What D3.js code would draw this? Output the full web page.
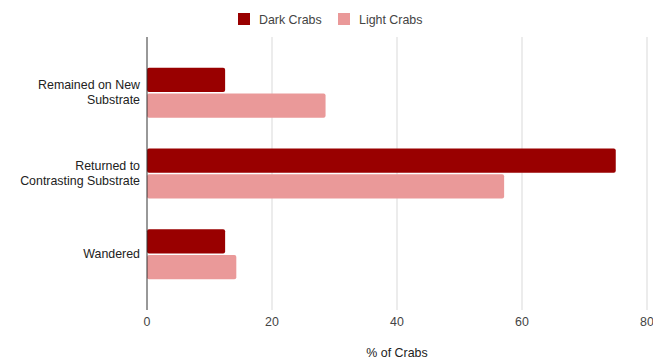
<!DOCTYPE html>
<html>
<head>
<meta charset="utf-8">
<script src="https://cdn.jsdelivr.net/npm/d3@7"></script>
<style>
  html, body { margin: 0; padding: 0; background: #fff; }
  svg { display: block; font-family: Arial, "Liberation Sans", sans-serif; }
</style>
</head>
<body>
<svg id="chart" width="653" height="361"></svg>
<script>
// Categories (each label split into display lines)
const categories = ["Remained on New Substrate", "Returned to Contrasting Substrate", "Wandered"];
const categoryLines = [["Remained on New", "Substrate"], ["Returned to", "Contrasting Substrate"], ["Wandered"]];

// Series
const seriesNames = ["Dark Crabs", "Light Crabs"];
const darkCrabs = [12.5, 75, 12.5];
const lightCrabs = [28.57, 57.14, 14.29];
const seriesColors = ["#990000", "#ea9999"];

// Axis
const xTicks = [0, 20, 40, 60, 80];
const xTitle = "% of Crabs";

const FS = 12.4;
const svg = d3.select("#chart");
const plot = { left: 147, right: 647, top: 37, bottom: 310 };

const x = d3.scaleLinear().domain([0, 80]).range([plot.left, plot.right]);
const y = d3.scaleBand().domain(categories).range([plot.top, plot.bottom])
  .paddingInner(0.381).paddingOuter(0.381);
const ySub = d3.scaleBand().domain(seriesNames).range([0, y.bandwidth()]).paddingInner(0.06);

// Vertical gridlines
svg.append("g").selectAll("line").data(xTicks.filter(d => d > 0)).join("line")
  .attr("x1", d => x(d)).attr("x2", d => x(d))
  .attr("y1", plot.top).attr("y2", plot.bottom)
  .attr("stroke", "#d9d9d9").attr("stroke-width", 1);

// Bars
const rows = categories.map((c, i) => ({ cat: c, vals: [darkCrabs[i], lightCrabs[i]] }));
const groups = svg.append("g").selectAll("g").data(rows).join("g")
  .attr("transform", d => `translate(0,${y(d.cat)})`);
groups.selectAll("rect").data(d => d.vals.map((v, j) => ({ v, s: seriesNames[j], c: seriesColors[j] })))
  .join("rect")
  .attr("x", x(0))
  .attr("y", d => ySub(d.s))
  .attr("width", d => x(d.v) - x(0))
  .attr("height", ySub.bandwidth())
  .attr("rx", 2).attr("ry", 2)
  .attr("fill", d => d.c);

// Baseline axis
svg.append("line")
  .attr("x1", x(0)).attr("x2", x(0))
  .attr("y1", plot.top).attr("y2", plot.bottom)
  .attr("stroke", "#333").attr("stroke-width", 1);

// X tick labels
svg.append("g").selectAll("text").data(xTicks).join("text")
  .attr("x", d => x(d)).attr("y", 326)
  .attr("text-anchor", "middle")
  .attr("font-size", FS).attr("fill", "#444")
  .text(d => d);

// X axis title
svg.append("text")
  .attr("x", (plot.left + plot.right) / 2).attr("y", 357)
  .attr("text-anchor", "middle")
  .attr("font-size", FS).attr("fill", "#222")
  .text(xTitle);

// Category labels
const lineH = 15;
categories.forEach((c, i) => {
  const lines = categoryLines[i];
  const cy = y(c) + y.bandwidth() / 2;
  const t = svg.append("text")
    .attr("text-anchor", "end")
    .attr("font-size", FS).attr("fill", "#222");
  lines.forEach((ln, k) => {
    t.append("tspan")
      .attr("x", 140)
      .attr("y", cy + (k - (lines.length - 1) / 2) * lineH + 4)
      .text(ln);
  });
});

// Legend
const legendItems = [{ name: seriesNames[0], x: 238 }, { name: seriesNames[1], x: 338 }];
const lg = svg.append("g");
legendItems.forEach((d, i) => {
  lg.append("rect").attr("x", d.x).attr("y", 13).attr("width", 12).attr("height", 12)
    .attr("fill", seriesColors[i]);
  lg.append("text").attr("x", d.x + 21).attr("y", 23.5)
    .attr("font-size", FS).attr("fill", "#444").text(d.name);
});
</script>
</body>
</html>
